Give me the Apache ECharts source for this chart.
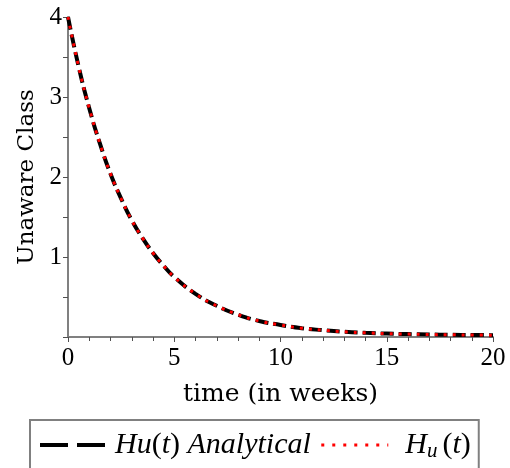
<!DOCTYPE html>
<html>
<head>
<meta charset="utf-8">
<script src="https://cdn.jsdelivr.net/npm/echarts@6/dist/echarts.min.js"></script>
<style>html,body{margin:0;padding:0;background:#fff;}#c{width:510px;height:468px;}</style>
</head>
<body>
<div id="c"></div>
<script>
var times = [0,0.5,1,1.5,2,2.5,3,3.5,4,4.5,5,6,7,8,9,10,11,12,13,14,15,16,17,18,19,20];
var huAnalytical = [4,3.38,2.86,2.42,2.04,1.73,1.46,1.24,1.05,0.89,0.75,0.54,0.39,0.28,0.20,0.15,0.11,0.085,0.065,0.052,0.043,0.036,0.031,0.028,0.025,0.023];
var huNumeric = [4,3.38,2.86,2.42,2.04,1.73,1.46,1.24,1.05,0.89,0.75,0.54,0.39,0.28,0.20,0.15,0.11,0.085,0.065,0.052,0.043,0.036,0.031,0.028,0.025,0.023];
var xTicks = [0,5,10,15,20];
var yTicks = [1,2,3,4];

function pairs(xs, ys){ return xs.map(function(x,i){return [x, ys[i]];}); }

var serif = 'Liberation Serif';
var wideSerif = 'DejaVu Serif';
var chart = echarts.init(document.getElementById('c'));
chart.setOption({
  animation: false,
  backgroundColor: '#fff',
  grid: {left: 68, right: 17, top: 17, bottom: 131, containLabel: false},
  xAxis: {
    type: 'value', min: 0, max: 20, interval: 5,
    name: 'time (in weeks)', nameLocation: 'middle', nameGap: 45,
    nameTextStyle: {fontFamily: wideSerif, fontSize: 25, color: '#000'},
    axisLine: {show: true, lineStyle: {color: '#808080', width: 2}},
    axisTick: {show: true, length: 5, lineStyle: {color: '#505050', width: 1}},
    minorTick: {show: true, splitNumber: 5, length: 4, lineStyle: {color: '#505050', width: 1}},
    axisLabel: {fontFamily: serif, fontSize: 25, color: '#000', margin: 9,
      formatter: function(v){ return xTicks.indexOf(v) >= 0 ? String(v) : ''; }},
    splitLine: {show: false}
  },
  yAxis: {
    type: 'value', min: 0, max: 4, interval: 1,
    name: 'Unaware Class', nameLocation: 'middle', nameGap: 28,
    nameTextStyle: {fontFamily: wideSerif, fontSize: 23, color: '#000'},
    axisLine: {show: true, lineStyle: {color: '#808080', width: 2}},
    axisTick: {show: true, length: 5, lineStyle: {color: '#505050', width: 1}},
    minorTick: {show: true, splitNumber: 2, length: 5, lineStyle: {color: '#505050', width: 1}},
    axisLabel: {fontFamily: serif, fontSize: 25, color: '#000', margin: 6,
      formatter: function(v){ return yTicks.indexOf(v) >= 0 ? String(v) : ''; }},
    splitLine: {show: false}
  },
  legend: {
    show: true, top: 420, left: 30,
    orient: 'horizontal',
    borderColor: '#808080', borderWidth: 2, padding: [10, 8, 40, 8],
    itemWidth: 67, itemHeight: 26, itemGap: 9,
    data: [
      {name: 'Hu(t) Analytical', itemStyle: {opacity: 0}, lineStyle: {type: [28, 9], width: 4, color: '#000'}},
      {name: 'H_u(t)', itemStyle: {opacity: 0}, lineStyle: {type: [3, 8], width: 3, color: '#ff0000'}}
    ],
    formatter: function(name){
      if (name === 'H_u(t)') return '{q|}{i|H}{sub|u}{n|(}{i|t}{n|)}';
      return '{p|}{i|Hu}{n|(}{i|t}{n|)} {i|Analytical}';
    },
    textStyle: {
      fontFamily: serif, fontSize: 30, color: '#000',
      rich: {
        p: {width: 3},
        q: {width: 12},
        i: {fontFamily: serif, fontSize: 30, fontStyle: 'italic', color: '#000'},
        n: {fontFamily: serif, fontSize: 30, color: '#000'},
        sub: {fontFamily: serif, fontSize: 21, fontStyle: 'italic', color: '#000', verticalAlign: 'bottom', padding: [13, 5, 0, 0]}
      }
    }
  },
  series: [
    {
      name: 'Hu(t) Analytical', type: 'line', smooth: true, showSymbol: false, symbol: 'none',
      data: pairs(times, huAnalytical),
      lineStyle: {color: '#000', width: 4, type: [13, 5]},
      itemStyle: {color: '#000'}, z: 2
    },
    {
      name: 'H_u(t)', type: 'line', smooth: true, showSymbol: false, symbol: 'none',
      data: pairs(times, huNumeric),
      lineStyle: {color: '#ff0000', width: 3, type: [3, 6]},
      itemStyle: {color: '#ff0000'}, z: 3
    }
  ]
});
</script>
</body>
</html>
